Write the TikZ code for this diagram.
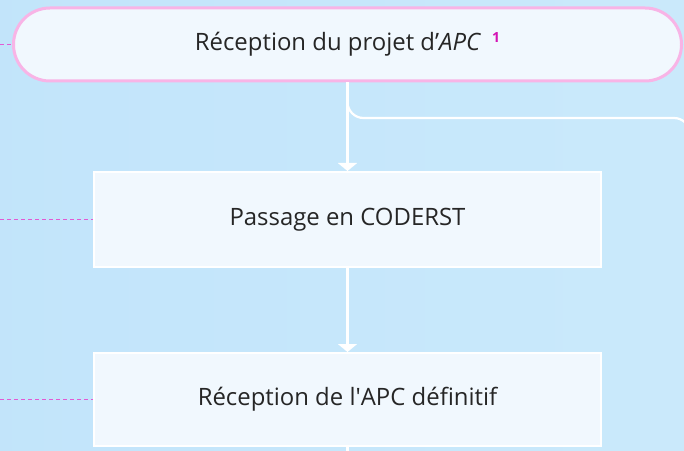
\documentclass[tikz,border=0pt]{standalone}
\usepackage{fontspec}
\setmainfont{Open Sans}
\usetikzlibrary{arrows.meta,positioning}

\definecolor{boxfill}{HTML}{F1F8FE}
\definecolor{pillborder}{HTML}{F8B4E6}
\definecolor{leaderpink}{HTML}{E25AD4}
\definecolor{notepink}{HTML}{D413B4}
\pgfdeclarehorizontalshading{fond}{100bp}{rgb(0bp)=(0.745,0.886,0.980); rgb(100bp)=(0.808,0.925,0.988)}

\begin{document}
\begin{tikzpicture}[
			x = 1bp, y = -1bp,
			every node/.style = {font = \fontsize{24}{29}\selectfont, text = black!85},
			pill/.style = {draw = pillborder, line width = 3bp, fill = boxfill,
				rounded corners = 36.5bp, minimum width = 668bp, minimum height = 73bp},
			etape/.style = {draw = white, line width = 2bp, fill = boxfill,
				minimum width = 507bp, minimum height = 95bp},
			flow/.style = {draw = white, line width = 2.2bp},
			flowarrow/.style = {flow, -{Triangle[width = 19bp, length = 8bp]}},
			leader/.style = {draw = leaderpink, line width = 1.5bp, dash pattern = on 4bp off 3bp}
			]

			% fond
			\useasboundingbox (0,0) rectangle (684,451);
			\clip (0,0) rectangle (684,451);
			\fill[shading = fond] (0,0) rectangle (684,451);

			% etapes
			\node[pill] (projet) at (347.5,44.5) {R\'eception du projet d’\textit{APC}\hspace{11pt}\raisebox{8pt}{\fontsize{14}{14}\selectfont\bfseries\color{notepink}1}};
			\node[etape, below = 88.5bp of projet] (coderst) {Passage en CODERST};
			\node[etape, below = 84bp of coderst, minimum height = 93bp] (definitif) {R\'eception de l\textquotesingle APC d\'efinitif};

			% renvois a gauche
			\draw[leader] (projet.west -| 0,0) -- (projet.west);
			\draw[leader] (coderst.west -| 0,0) -- (coderst.west);
			\draw[leader] (definitif.west -| 0,0) -- (definitif.west);

			% liaisons
			\coordinate (droite) at (690,118);
			\coordinate (bas) at (347.5,470);
			\draw[flowarrow] (projet) -- (coderst);
			\draw[flowarrow] (coderst) -- (definitif);
			\draw[flow] (definitif) -- (bas);
			\draw[flow] (projet.south) [rounded corners = 16bp] -- (projet.south |- droite) -- (droite) [rounded corners = 40bp] -- ++(0,350);

		\end{tikzpicture}
\end{document}
